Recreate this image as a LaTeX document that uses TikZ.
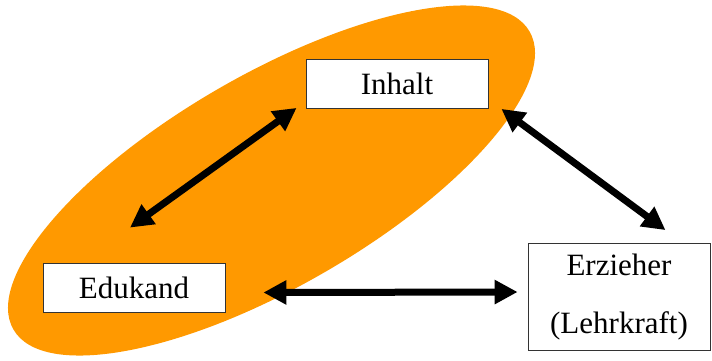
\documentclass[tikz,border=0pt]{standalone}
\usepackage{fontspec}
\setmainfont{Liberation Serif}
\usepackage{tikz}
\usetikzlibrary{arrows.meta}
\definecolor{ellorange}{RGB}{255,153,0}
\tikzset{box/.style={draw=black!80, fill=white, line width=.8pt, minimum width=182pt, minimum height=49pt, inner sep=0pt, font=\fontsize{31}{58}\selectfont},
    bigarrow/.style={line width=7pt, {Triangle[length=23pt,width=23pt]}-{Triangle[length=23pt,width=23pt]}}}

\begin{document}
\begin{tikzpicture}[x=1pt,y=-1pt]
    \useasboundingbox (0,0) rectangle (712,360);
    \fill[ellorange] (271.5,180.5) ellipse [x radius=298pt, y radius=106pt, rotate=30];
    \node[box] (inh) at (397,84) {Inhalt};
    \node[box] (edu) at (134,287.5) {Edukand};
    \node[box, minimum height=107pt, align=center] (erz) at (619,297) {Erzieher\\(Lehrkraft)};
    % arrow ends
    \coordinate (e1) at ([shift={(-4,-35)}]edu.north);
    \coordinate (e2) at ([shift={(38,5)}]edu.east);
    \coordinate (i1) at ([shift={(-9,-1)}]inh.south west);
    \coordinate (i2) at ([shift={(13,0)}]inh.south east);
    \coordinate (z1) at ([shift={(46.5,-13)}]erz.north);
    \coordinate (z2) at ([shift={(-10,-5)}]erz.west);
    \draw[bigarrow] (e1) -- (i1);
    \draw[bigarrow] (i2) -- (z1);
    \draw[bigarrow] (e2) -- (z2);
\end{tikzpicture}
\end{document}
